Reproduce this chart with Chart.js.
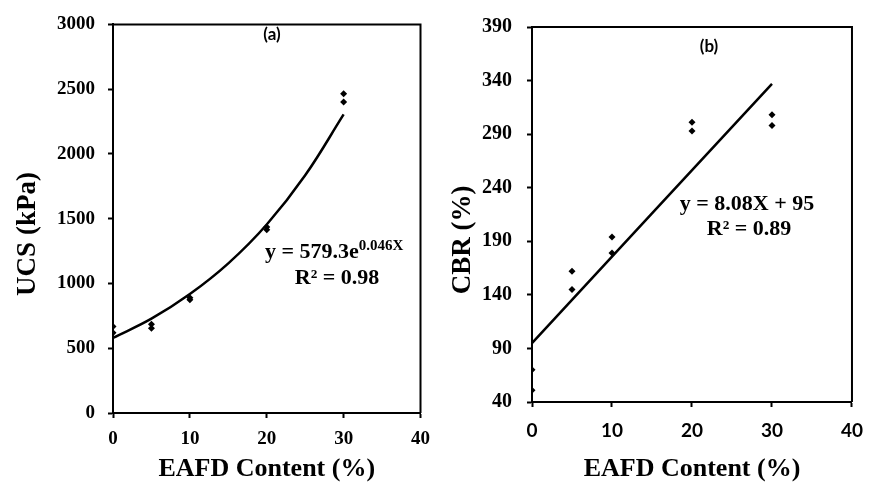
<!DOCTYPE html>
<html>
<head>
<meta charset="utf-8">
<script src="https://cdn.jsdelivr.net/npm/chart.js@4"></script>
<style>
  body { margin: 0; background: #fff; }
  #wrap { position: relative; width: 875px; height: 483px; }
  .box { position: absolute; top: 0; height: 483px; }
</style>
</head>
<body>
<div id="wrap">
  <div class="box" style="left:0;width:440px"><canvas id="ucs"></canvas></div>
  <div class="box" style="left:440px;width:435px"><canvas id="cbr"></canvas></div>
</div>
<script>
// (a) UCS vs EAFD content
const ucsX = [0, 0, 5, 5, 10, 10, 20, 20, 30, 30];
const ucsY = [668, 620, 685, 655, 875, 890, 1415, 1435, 2465, 2400];
const ucsFitX = [0, 5, 10, 15, 20, 25, 30];
const ucsFitY = [580, 728, 918, 1155, 1455, 1835, 2305];

// (b) CBR vs EAFD content
const cbrX = [0, 0, 5, 5, 10, 10, 20, 20, 30, 30];
const cbrY = [70, 51, 162, 145, 194, 179, 301, 293, 308, 298];
const cbrFitX = [0, 30];
const cbrFitY = [95, 337];

const serif = 'Liberation Serif';
const sans = 'Lato';

// Caja + textos (ecuaciones, etiquetas)
const textPlugin = {
  id: 'texts',
  afterDraw(chart, args, opts) {
    const ctx = chart.ctx;
    const a = chart.chartArea;
    ctx.save();
    ctx.strokeStyle = '#000';
    ctx.lineWidth = 2;
    ctx.beginPath();
    ctx.moveTo(a.left, a.top);
    ctx.lineTo(a.right, a.top);
    ctx.lineTo(a.right, a.bottom);
    ctx.stroke();
    ctx.fillStyle = '#000';
    (opts.items || []).forEach(it => {
      ctx.save();
      ctx.font = it.font;
      ctx.textAlign = it.align || 'left';
      ctx.textBaseline = it.baseline || 'alphabetic';
      ctx.translate(it.x, it.y);
      if (it.rotate) ctx.rotate(it.rotate);
      ctx.fillText(it.text, 0, 0);
      if (it.sup) {
        const w = ctx.measureText(it.text).width;
        ctx.font = it.supFont;
        ctx.textAlign = 'left';
        ctx.fillText(it.sup, w, -it.supRise);
      }
      ctx.restore();
    });
    ctx.restore();
  }
};

function pts(xs, ys) {
  return xs.map((x, i) => ({ x: x, y: ys[i] }));
}

function makeChart(id, cfg) {
  return new Chart(document.getElementById(id), {
    type: 'scatter',
    data: {
      datasets: [
        {
          data: pts(cfg.fitX, cfg.fitY),
          showLine: true,
          borderColor: '#000',
          borderWidth: 2.5,
          pointRadius: 0,
          tension: 0.4
        },
        {
          data: pts(cfg.x, cfg.y),
          pointStyle: 'rectRot',
          pointRadius: 3.5,
          backgroundColor: '#000',
          borderColor: '#000',
          borderWidth: 0
        }
      ]
    },
    options: {
      responsive: true,
      maintainAspectRatio: false,
      animation: false,
      layout: { padding: cfg.padding },
      plugins: {
        legend: { display: false },
        tooltip: { enabled: false },
        texts: { items: cfg.texts }
      },
      scales: {
        x: {
          type: 'linear',
          min: 0, max: 40,
          ticks: { stepSize: 10, color: '#000', padding: cfg.xPad, font: cfg.xFont },
          grid: { drawOnChartArea: false, tickLength: 5, tickWidth: 2, color: '#000' },
          border: { color: '#000', width: 2 },
          title: {
            display: true,
            text: 'EAFD Content (%)',
            color: '#000',
            font: { family: serif, size: 26, weight: 'bold', lineHeight: 1 },
            padding: { top: 0, bottom: cfg.xTitlePad }
          },
          afterFit: s => { s.height = cfg.xH; }
        },
        y: {
          min: cfg.yMin, max: cfg.yMax,
          ticks: { stepSize: cfg.yStep, color: '#000', padding: cfg.yPad, font: cfg.yFont,
            callback: v => String(v) },
          grid: { drawOnChartArea: false, tickLength: 5, tickWidth: 2, color: '#000' },
          border: { color: '#000', width: 2 },
          afterFit: s => { s.width = cfg.yW; }
        }
      }
    },
    plugins: [textPlugin]
  });
}

makeChart('ucs', {
  x: ucsX, y: ucsY, fitX: ucsFitX, fitY: ucsFitY,
  yMin: 0, yMax: 3000, yStep: 500,
  padding: { top: 19, right: 18, left: 0, bottom: 0 },
  xH: 70, yW: 113,
  xPad: 10, yPad: 13, xTitlePad: 1,
  xFont: { family: serif, size: 19, weight: 'bold' },
  yFont: { family: serif, size: 19, weight: 'bold' },
  texts: [
    { text: 'UCS (kPa)', x: 28, y: 234, rotate: -Math.PI / 2, align: 'center', baseline: 'middle',
      font: 'bold 27px "Liberation Serif"' },
    { text: '(a)', x: 272, y: 35, align: 'center', baseline: 'middle', font: 'bold 17px Lato' },
    { text: 'y = 579.3e', x: 265, y: 258, font: 'bold 22px "Liberation Serif"',
      sup: '0.046X', supFont: 'bold 15px "Liberation Serif"', supRise: 8 },
    { text: 'R² = 0.98', x: 337, y: 284, align: 'center', font: 'bold 22px "Liberation Serif"' }
  ]
});

makeChart('cbr', {
  x: cbrX, y: cbrY, fitX: cbrFitX, fitY: cbrFitY,
  yMin: 40, yMax: 390, yStep: 50,
  padding: { top: 24, right: 12, left: 0, bottom: 0 },
  xH: 81, yW: 92,
  xPad: 12, yPad: 15, xTitlePad: 1,
  xFont: { family: sans, size: 19, weight: 'bold' },
  yFont: { family: serif, size: 20, weight: 'bold' },
  texts: [
    { text: 'CBR (%)', x: 23, y: 240, rotate: -Math.PI / 2, align: 'center', baseline: 'middle',
      font: 'bold 27px "Liberation Serif"' },
    { text: '(b)', x: 269, y: 47, align: 'center', baseline: 'middle', font: 'bold 17px Lato' },
    { text: 'y = 8.08X + 95', x: 307, y: 210, align: 'center', font: 'bold 22px "Liberation Serif"' },
    { text: 'R² = 0.89', x: 309, y: 235, align: 'center', font: 'bold 22px "Liberation Serif"' }
  ]
});
</script>
</body>
</html>
